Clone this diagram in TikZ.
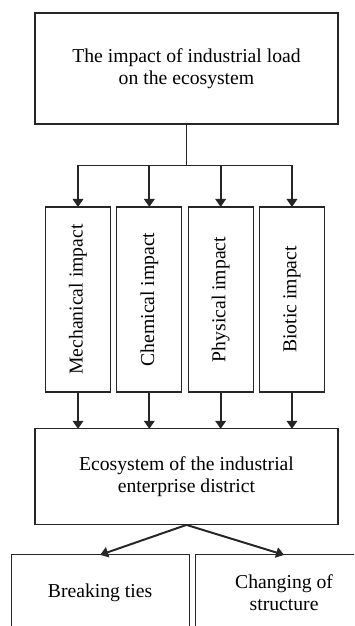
\documentclass[tikz,border=0pt]{standalone}
\usepackage{fontspec}
\setmainfont{Liberation Serif}
\usetikzlibrary{positioning,arrows.meta}

\begin{document}
\begin{tikzpicture}
[every node/.style={draw=black!85,line width=0.8pt,inner sep=1mm,outer sep=0mm,align=center,font=\fontsize{14}{16}\selectfont},
 box/.style={rectangle,minimum width=75.75mm},
 vbox/.style={rectangle,minimum width=16.25mm,minimum height=46.25mm},
 leaf/.style={rectangle,minimum width=44.5mm,minimum height=19mm},
 wire/.style={black!85,line width=1.4pt},
 link/.style={wire,-{Triangle[length=2mm,width=2.6mm]}}]
% frame of the picture, the lower boxes run past it
\useasboundingbox (-46.625mm,17.125mm) rectangle (41.875mm,-139.375mm);
\clip (-46.625mm,17.125mm) rectangle (41.875mm,-139.375mm);
\node[box,minimum height=27.75mm] (impact) {The impact of industrial load\\on the ecosystem};
\node[vbox] (mech) [on grid,below left=57.75mm and 27.125mm of impact] {\rotatebox{90}{Mechanical impact}};
\node[vbox] (chem) [on grid,right=17.83mm of mech] {\rotatebox{90}{Chemical impact}};
\node[vbox] (phys) [on grid,right=17.83mm of chem] {\rotatebox{90}{Physical impact}};
\node[vbox] (bio)  [on grid,right=17.83mm of phys] {\rotatebox{90}{Biotic impact}};
\node[box,minimum height=24mm] (eco) [on grid,below=102.1mm of impact] {Ecosystem of the industrial\\enterprise district};
\node[leaf] (ties)   [on grid,below left=29mm and 21.6mm of eco]  {Breaking ties};
\node[leaf] (struct) [on grid,below right=29mm and 24.4mm of eco] {Changing of\\structure};
\coordinate[on grid,below=24.25mm of impact] (bus);

\draw[wire] (impact) -- (bus);
\draw[wire,line cap=rect] (mech.north |- bus) -- (bio.north |- bus);
\foreach \n in {mech,chem,phys,bio}
  \draw[link] (\n.north |- bus) -- (\n);
\foreach \n in {mech,chem,phys,bio}
  \draw[link] (\n) -- (\n.south |- eco.north);
\draw[link] (eco.south) -- (ties.north);
\draw[link] (eco.south) -- (struct.north);
\end{tikzpicture}
\end{document}
